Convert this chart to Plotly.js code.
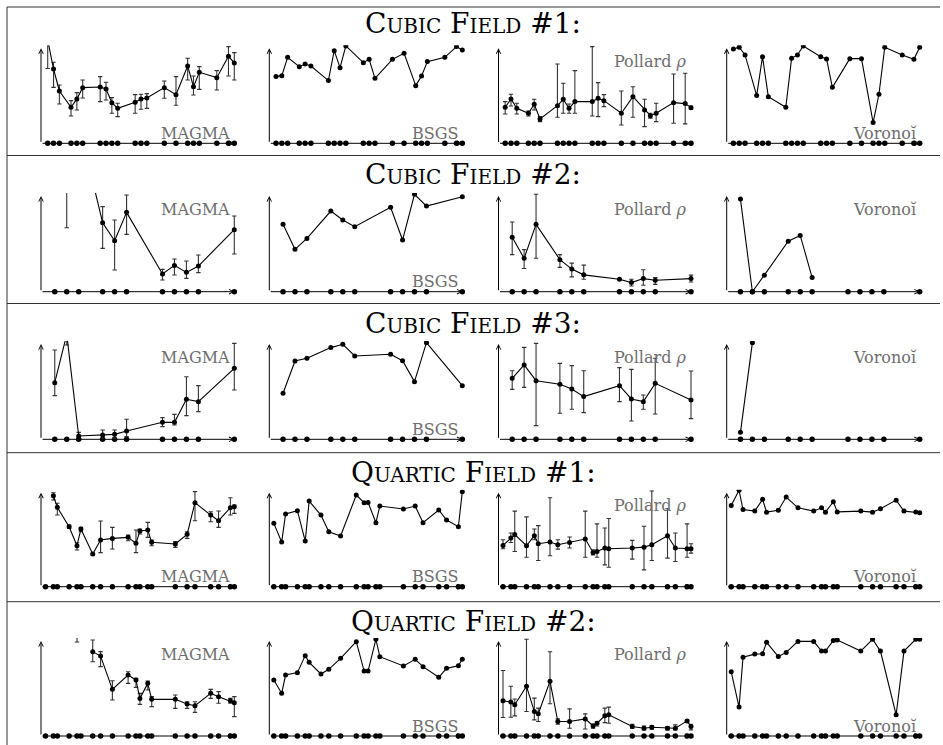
<!DOCTYPE html>
<html><head><meta charset="utf-8">
<script src="https://cdn.plot.ly/plotly-3.0.1.min.js"></script>
<style>html,body{margin:0;padding:0;background:#fff}#chart{width:943px;height:745px}</style>
</head><body><div id="chart"></div>
<script>
// ---------- x values (instance index along the horizontal axis) ----------
const xCubic1 = [0,1,2,4,5,6,9,10,11,12,15,16,17,20,22,24,25,26,29,31,32];
const xCubic23 = [0,1,2,4,5,6,9,10,11,12,15];
const xQuartic = [0,2,3,6,8,9,12,14,17,21,23,24,26,27,33,36,38,42,44,47,48];

// ---------- Cubic Field #1 ----------
const c1Magma   = [108.8,78.2,55.1,37.9,46.7,58.6,59.3,57.2,42.8,36.8,43.2,46.7,47.7,58.6,51.2,81.4,59.6,74.7,69.1,91.6,84.6];
const c1MagmaHi = [139,85.3,61.4,44.9,53.3,66.7,70.2,64.2,48.1,42.1,51.2,51.6,52.3,65.6,70.2,89.5,70.9,80.7,76.5,101.8,95.4];
const c1MagmaLo = [78.8,58.9,41.4,28.8,35.1,47.7,43.9,45.6,31.6,28.1,31.6,35.8,36.8,47.4,40.0,66.7,50.9,56.8,56.1,70.9,66.7];
const c1Bsgs    = [70.2,71.2,90.5,80.7,83.5,81.4,66.0,97.5,79.6,102.5,84.9,88.4,68.4,88.4,94.7,60.7,70.9,86.0,90.5,101.8,98.2];
const c1Pollard   = [37.9,46.7,36.8,31.6,41.1,25.6,39.6,46.3,36.8,43.9,43.9,47.4,44.9,31.6,49.1,35.1,29.1,31.6,42.8,41.8,37.5];
const c1PollardHi = [43.9,51.6,42.1,34.0,46.3,28.1,83.5,63.2,41.4,76.5,101.8,63.9,51.2,55.1,59.6,46.3,31.6,42.1,73.0,73.7,39.3];
const c1PollardLo = [30.9,39.3,30.9,28.8,35.1,22.8,27.4,31.6,31.6,31.6,28.8,28.1,38.6,19.3,27.4,17.5,26.3,22.8,21.1,20.4,35.8];
const c1Voronoi = [99.3,101.1,93.0,50.2,91.2,49.1,37.9,89.5,93.0,102.5,91.2,88.8,58.9,89.1,89.1,21.8,51.6,101.1,93.0,88.4,101.1];

// ---------- Cubic Field #2 ----------
const c2Magma   = [null,150,176,72.1,53.3,82.9,18.5,27.5,20.2,26.8,64.8];
const c2MagmaHi = [null,200,200,88.9,74.9,101.0,23.3,34.1,32.1,38.3,79.1];
const c2MagmaLo = [null,66.9,150,45.3,22.6,59.9,12.2,17.4,13.9,19.9,39.4];
const c2Bsgs    = [70.4,44.3,55.7,84.3,74.9,67.9,88.2,54.0,101.7,89.5,99.3];
const c2Pollard   = [57.0,34.9,70.4,33.5,23.6,17.6,13.0,9.5,13.7,12.0,13.7];
const c2PollardHi = [72.9,44.0,101.8,38.7,29.9,27.8,13.0,13.0,22.9,14.8,17.3];
const c2PollardLo = [38.7,24.3,34.9,25.4,15.5,13.0,13.0,6.0,6.7,7.7,10.2];
const c2Voronoi = [96.8,0,17.3,52.8,58.8,14.8,null,null,null,null,null];

// ---------- Cubic Field #3 ----------
const c3Magma   = [59.4,110,3.5,4.5,5.2,8.7,17.8,17.8,42.0,39.5,74.5];
const c3MagmaHi = [93.7,120,7.3,9.8,9.8,21.0,22.7,26.2,65.7,56.3,100.7];
const c3MagmaLo = [45.8,99,0,0,1.0,2.8,13.3,15.0,24.8,29.0,51.7];
const c3Bsgs    = [48.3,82.2,85.0,96.2,99.7,87.4,89.2,82.5,60.5,101.4,56.3];
const c3Pollard   = [64.0,78.0,61.5,57.7,52.8,44.8,56.3,42.3,39.5,58.7,41.3];
const c3PollardHi = [72.0,96.5,100.7,79.7,77.3,72.0,75.2,73.4,46.5,85.0,71.7];
const c3PollardLo = [52.4,54.5,14.3,27.3,31.5,28.0,39.5,19.2,31.5,26.6,21.7];
const c3Voronoi = [7.3,101.4,null,null,null,null,null,null,null,null,null];

// ---------- Quartic Field #1 ----------
const q1Magma   = [null,96.8,84.4,63.8,43.6,61.3,34.8,49.6,51.4,52.5,46.1,59.2,60.3,47.2,45.4,55.7,89.4,76.2,70.2,84.0,85.1];
const q1MagmaHi = [null,100,88.7,65.5,46.8,63.1,35.5,69.9,63.1,55.0,60.3,61.3,68.4,49.6,47.9,58.5,101.1,79.8,80.5,94.7,86.9];
const q1MagmaLo = [null,92.2,76.2,62.0,39.0,58.5,33.7,36.2,40.1,48.9,36.2,56.0,52.5,43.6,41.8,51.4,70.2,69.1,63.1,76.2,78.0];
const q1Bsgs    = [67.4,47.5,77.3,80.9,48.6,91.1,76.2,58.5,53.9,97.5,89.4,89.7,68.1,85.8,82.6,85.8,68.1,81.6,70.9,63.8,101.1];
const q1Pollard   = [43.9,51.8,55.4,43.6,54.3,45.7,47.5,44.6,47.1,50.7,36.4,37.5,41.1,40.4,41.1,42.1,44.6,54.3,41.1,40.4,40.4];
const q1PollardHi = [50.0,57.1,80.4,74.3,61.4,65.0,94.6,50.0,52.9,80.4,39.3,66.8,62.5,72.5,49.3,64.3,101.8,82.9,57.1,66.8,45.7];
const q1PollardLo = [40.4,47.1,37.5,31.4,50.0,27.9,32.9,40.0,41.1,31.4,33.9,31.4,23.2,20.7,29.3,17.9,27.9,30.4,26.8,31.4,35.7];
const q1Voronoi = [86.4,102.5,82.1,80.4,92.9,79.3,81.4,95.4,83.9,80.4,83.9,79.3,90.4,79.6,80.4,79.3,82.9,92.1,80.4,79.6,78.6];

// ---------- Quartic Field #2 ----------
const q2Magma   = [null,null,null,null,115,null,88.8,84.2,49.1,64.2,58.9,39.6,55.4,38.6,38.6,33.7,31.9,44.9,41.4,37.2,35.1];
const q2MagmaHi = [null,null,null,null,130,null,101.1,88.8,58.2,67.7,60.7,44.9,57.9,41.4,43.2,36.1,36.1,49.1,46.7,39.6,41.4];
const q2MagmaLo = [null,null,null,null,99,null,78.2,73.0,37.9,55.4,51.2,33.3,48.4,30.9,29.1,29.1,24.9,39.6,34.4,34.4,20.4];
const q2Bsgs    = [58.9,44.9,64.2,66.7,84.6,77.5,65.3,70.2,81.8,99.3,68.4,68.4,101.8,83.5,73.7,80.7,73.0,61.8,71.2,74.0,80.7];
const q2Pollard   = [37.1,35.7,32.9,52.3,25.8,23.3,57.6,15.2,15.2,18.0,10.6,13.4,21.2,22.3,9.9,8.1,9.2,8.1,8.1,15.9,9.9];
const q2PollardHi = [68.9,52.3,38.9,101.8,39.9,29.3,88.7,18.0,28.6,23.3,12.7,15.2,29.3,30.4,12.4,10.6,11.0,9.9,11.7,17.0,12.4];
const q2PollardLo = [19.4,19.8,21.2,25.8,17.0,15.2,33.9,12.4,8.1,7.4,8.1,10.6,14.1,13.4,8.1,6.4,7.1,6.4,6.4,14.5,6.4];
const q2Voronoi = [67.5,30.4,83.0,86.2,86.6,98.6,83.7,88.0,99.6,99.6,89.4,89.4,100.4,101.1,89.4,101.8,89.4,22.3,89.4,101.8,101.8];

// ---------- labels ----------
const rowTitles = ['Cubic Field #1:','Cubic Field #2:','Cubic Field #3:','Quartic Field #1:','Quartic Field #2:'];
const methodNames = ['MAGMA','BSGS','Pollard <i>ρ</i>','Voronoĭ'];
const labelPos = [
  ['bottom','bottom','top','bottom'],
  ['top','bottom','top','top'],
  ['top','bottom','top','top'],
  ['bottom','bottom','top','bottom'],
  ['top','bottom','top','bottom']
];

const rows = [
  {x:xCubic1, p:[[c1Magma,c1MagmaHi,c1MagmaLo],[c1Bsgs],[c1Pollard,c1PollardHi,c1PollardLo],[c1Voronoi]]},
  {x:xCubic23, p:[[c2Magma,c2MagmaHi,c2MagmaLo],[c2Bsgs],[c2Pollard,c2PollardHi,c2PollardLo],[c2Voronoi]]},
  {x:xCubic23, p:[[c3Magma,c3MagmaHi,c3MagmaLo],[c3Bsgs],[c3Pollard,c3PollardHi,c3PollardLo],[c3Voronoi]]},
  {x:xQuartic, p:[[q1Magma,q1MagmaHi,q1MagmaLo],[q1Bsgs],[q1Pollard,q1PollardHi,q1PollardLo],[q1Voronoi]]},
  {x:xQuartic, p:[[q2Magma,q2MagmaHi,q2MagmaLo],[q2Bsgs],[q2Pollard,q2PollardHi,q2PollardLo],[q2Voronoi]]}
];

// ---------- geometry (pixels) ----------
const W = 943, H = 745;
const colAxisX = [41, 269.3, 498.5, 726.7];
const colLastX = [234.3, 462.3, 691, 919.7];
const rowAxisY = [143.3, 291.7, 439.3, 586.7, 736];
const rowTopY  = [48.3, 196, 344, 492.7, 641];
const rowLineY = [7, 155.5, 303.5, 452.7, 601.7];
const titleY   = [24, 174, 324, 472.5, 621];
const X0 = -1.15;

const traces = [];
const layout = {
  width: W, height: H, margin: {l:0, r:0, t:0, b:0},
  showlegend: false, paper_bgcolor: '#ffffff', plot_bgcolor: 'rgba(0,0,0,0)',
  annotations: [], shapes: []
};

rows.forEach((row, r) => {
  const xmax = Math.max(...row.x);
  row.p.forEach((pd, c) => {
    const k = r*4 + c + 1;
    const sfx = k === 1 ? '' : String(k);
    const xa = 'x' + sfx, ya = 'y' + sfx;
    const ppu = (colLastX[c] - colAxisX[c]) / (xmax - X0);
    const ppv = (rowAxisY[r] - rowTopY[r]) / 100;
    const leftPx = colAxisX[c] - 1, rightPx = colLastX[c] + 4;
    const botPx = rowAxisY[r] + 4, topPx = rowTopY[r] - 3;
    layout['xaxis' + sfx] = {
      domain: [leftPx / W, rightPx / W],
      range: [X0 - 1/ppu, xmax + 4/ppu],
      anchor: ya, visible: false, fixedrange: true
    };
    layout['yaxis' + sfx] = {
      domain: [1 - botPx / H, 1 - topPx / H],
      range: [-4/ppv, 100 + 3/ppv],
      anchor: xa, visible: false, fixedrange: true
    };
    // dots along the horizontal axis
    traces.push({
      type: 'scatter', mode: 'markers', xaxis: xa, yaxis: ya,
      x: row.x, y: row.x.map(() => 0),
      marker: {size: 5.5, color: '#000'}, hoverinfo: 'skip'
    });
    const vals = pd[0];
    const tr = {
      type: 'scatter', mode: 'lines+markers', xaxis: xa, yaxis: ya,
      x: row.x, y: vals,
      line: {color: '#000', width: 1.1},
      marker: {size: 5, color: '#000'},
      connectgaps: false, hoverinfo: 'skip'
    };
    if (pd.length === 3) {
      const hi = pd[1], lo = pd[2];
      tr.error_y = {
        type: 'data', symmetric: false,
        array: vals.map((v, i) => (v == null || hi[i] == null) ? 0 : Math.max(0, hi[i] - v)),
        arrayminus: vals.map((v, i) => (v == null || lo[i] == null) ? 0 : Math.max(0, v - lo[i])),
        color: '#333333', thickness: 1.1, width: 2.2
      };
    }
    traces.push(tr);
    // axis arrows
    const arrowBase = {xref: xa, yref: ya, axref: xa, ayref: ya, showarrow: true, text: '',
      arrowhead: 5, arrowsize: 0.9, arrowwidth: 1, arrowcolor: '#000', standoff: 0, startstandoff: 0};
    layout.annotations.push(Object.assign({}, arrowBase, {x: xmax + 0.2/ppu, y: 0, ax: X0, ay: 0}));
    layout.annotations.push(Object.assign({}, arrowBase, {x: X0, y: 100, ax: X0, ay: 0}));
    // method label
    const ly = labelPos[r][c] === 'bottom' ? rowAxisY[r] - 10 : rowTopY[r] + 13;
    layout.annotations.push({
      xref: 'paper', yref: 'paper', x: (colLastX[c] - 2) / W, y: 1 - ly / H,
      xanchor: 'right', yanchor: 'middle', showarrow: false,
      text: methodNames[c],
      font: {family: 'DejaVu Serif, serif', size: 16, color: '#6e6e6e'}
    });
  });
  // row title
  layout.annotations.push({
    xref: 'paper', yref: 'paper', x: 473 / W, y: 1 - titleY[r] / H,
    xanchor: 'center', yanchor: 'middle', showarrow: false,
    text: rowTitles[r],
    font: {family: 'DejaVu Serif, serif', size: 28, color: '#000', variant: 'small-caps'}
  });
  // separator line
  layout.shapes.push({type: 'line', xref: 'paper', yref: 'paper',
    x0: 7 / W, x1: 940 / W, y0: 1 - rowLineY[r] / H, y1: 1 - rowLineY[r] / H,
    line: {color: '#333', width: 1}});
});
layout.shapes.push({type: 'line', xref: 'paper', yref: 'paper',
  x0: 7 / W, x1: 7 / W, y0: 1 - 7 / H, y1: 0, line: {color: '#333', width: 1}});

Plotly.newPlot('chart', traces, layout, {staticPlot: true, displayModeBar: false});
</script>
</body></html>
